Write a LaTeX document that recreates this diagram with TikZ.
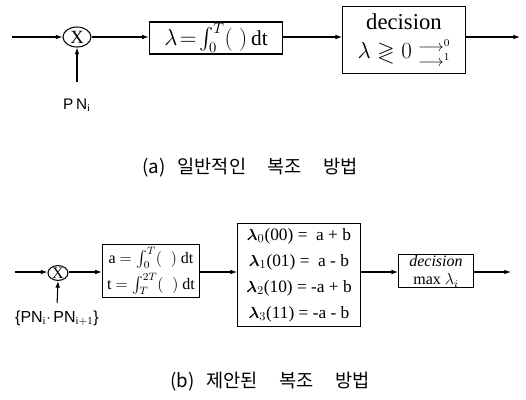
\documentclass[tikz,border=0pt]{standalone}
\usepackage{amsmath,amssymb}
\usepackage{fontspec}
\setmainfont{Liberation Serif}
\setsansfont{Liberation Sans}
\newfontfamily\kr{Noto Sans CJK KR}
\usetikzlibrary{shapes.geometric,arrows.meta}
\begin{document}
\begin{tikzpicture}[x=0.75pt,y=-0.75pt,line width=0.8pt,
  >={Latex[length=5pt,width=3.5pt]},
  box/.style={draw,inner sep=0pt,align=center},
  mult/.style={draw,ellipse,inner sep=0pt},
  lbl/.style={font=\sffamily\fontsize{11.5}{13}\selectfont},
  captext/.style={font=\kr\fontsize{14}{16}\selectfont}]
\useasboundingbox (0,0) rectangle (526,400);
% ---------- (a) ----------
\coordinate (in1) at (12,37);
\node[mult,minimum width=21pt,minimum height=15pt,font=\fontsize{14}{14}\selectfont] (m1) at (77,37) {X};
\node[box,minimum width=100pt,minimum height=24pt,font=\fontsize{16}{18}\selectfont] (b1) at (216,38)
  {$\lambda\!=\!\int_0^{T}(\;)\,$dt};
\node[box,minimum width=92pt,minimum height=50pt,font=\fontsize{17}{20}\selectfont] (d1) at (404,40)
  {decision\\[2pt]$\lambda \gtrless 0\;\substack{\longrightarrow{}^{0}\\ \longrightarrow{}^{1}}$};
\coordinate (out1) at (520,37);
\node[lbl] (pn1) at (77,105) {P\,N$_{\mathrm{i}}$};
\draw[->] (in1) -- (m1);
\draw[->] (m1) -- (b1.west |- m1);
\draw[->] (b1.east |- m1) -- (d1.west |- m1);
\draw[->] (d1.east |- m1) -- (out1);
\draw[->,shorten <=9pt] (pn1.north) -- (m1.south);
\node[captext] (capa) at (250,168) {(a)\hspace{9pt}일반적인\hspace{16pt}복조\hspace{16pt}방법};
% ---------- (b) ----------
\coordinate (in2) at (15,272);
\node[mult,minimum width=15pt,minimum height=10.5pt,font=\fontsize{12}{12}\selectfont] (m2) at (58,273) {X};
\node[box,minimum width=73pt,minimum height=40pt,font=\fontsize{12}{19.5}\selectfont] (b2) at (151,271)
  {a $=\int_0^{T}(\;\;)$ dt\\ t $=\int_T^{2T}(\;\;)$ dt};
\node[box,minimum width=92pt,minimum height=77pt,font=\fontsize{13}{19.5}\selectfont] (l2) at (299,275)
  {$\boldsymbol{\lambda}_0$(00) =\ \ a + b\\ $\boldsymbol{\lambda}_1$(01) =\ \ a - b\\ $\boldsymbol{\lambda}_2$(10) = -a + b\\ $\boldsymbol{\lambda}_3$(11) = -a - b};
\node[box,minimum width=56pt,minimum height=25pt,font=\fontsize{12}{14}\selectfont] (d2) at (436,271)
  {\textit{decision}\\ max $\lambda_i$};
\coordinate (out2) at (511,272);
\node[lbl,font=\sffamily\fontsize{12}{14}\selectfont] (pn2) at (57,318) {\{PN$_{\mathrm{i}}$$\cdot$\,PN$_{\mathrm{i+1}}$\}};
\draw[->] (in2) -- (m2.west |- in2);
\draw[->] (m2.east |- in2) -- (b2.west |- in2);
\draw[->] (b2.east |- in2) -- (l2.west |- in2);
\draw[->] (l2.east |- in2) -- (d2.west |- in2);
\draw[->] (d2.east |- in2) -- (out2);
\draw[->,shorten <=2pt] (pn2.north) -- (m2.south);
\node[captext] (capb) at (270,382) {(b)\hspace{9pt}제안된\hspace{16pt}복조\hspace{16pt}방법};
\end{tikzpicture}
\end{document}
